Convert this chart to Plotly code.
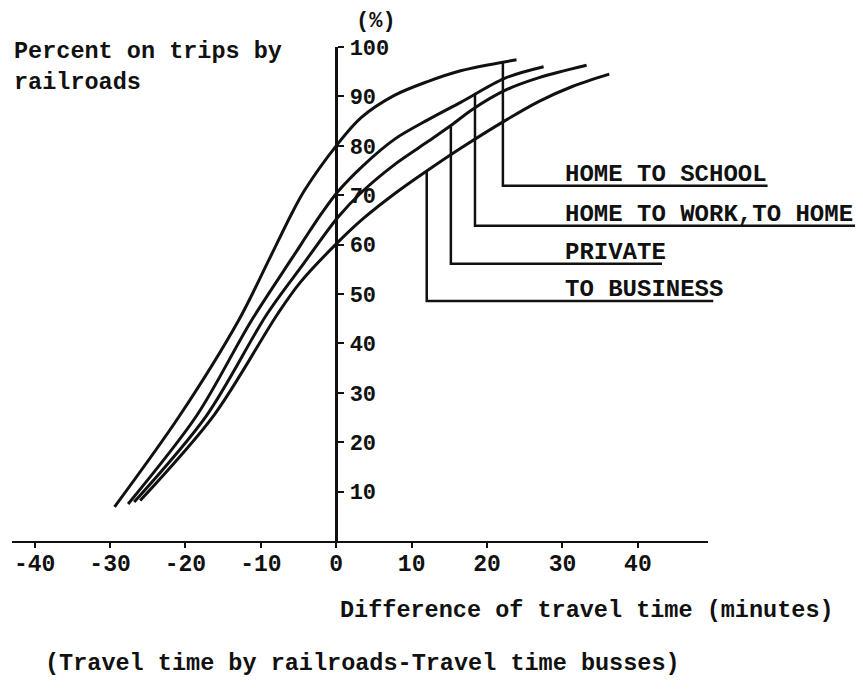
import numpy as np
import plotly.graph_objects as go

# ---------------- data ----------------
series_names = ["HOME TO SCHOOL", "HOME TO WORK,TO HOME", "PRIVATE", "TO BUSINESS"]

school_x = [-29.4, -20.8, -12.9, -8.9, -5.9, -4.2, 0.1, 3.3, 7.7, 12.1, 16.5, 23.9]
school_y = [6.9, 25.3, 44.8, 57.0, 66.3, 71.0, 80.2, 85.7, 90.2, 93.0, 95.2, 97.4]

work_x = [-27.6, -18.5, -11.3, -5.8, -1.9, 0.2, 3.5, 7.8, 12.2, 16.5, 22.4, 27.5]
work_y = [7.5, 25.4, 44.5, 57.4, 66.4, 70.7, 75.9, 81.4, 85.3, 88.8, 93.7, 96.0]

private_x = [-26.8, -17.2, -9.2, -4.4, 0.25, 3.5, 7.9, 12.2, 15.2, 18.1, 22.5, 26.9, 33.2]
private_y = [7.9, 25.4, 45.9, 56.0, 65.6, 70.8, 76.4, 80.9, 84.1, 87.4, 91.3, 93.8, 96.3]

business_x = [-26.0, -16.2, -7.8, -4.8, 0.3, 3.6, 8.0, 11.9, 16.7, 22.5, 26.9, 31.3, 36.2]
business_y = [8.2, 25.5, 45.9, 52.3, 60.6, 65.3, 70.6, 74.8, 79.7, 85.2, 89.0, 92.0, 94.5]

x_tick_vals = [-40, -30, -20, -10, 0, 10, 20, 30, 40]
x_tick_text = ["-40", "-30", "-20", "-10", "0", "10", "20", "30", "40"]
y_tick_vals = [10, 20, 30, 40, 50, 60, 70, 80, 90, 100]
y_tick_text = ["10", "20", "30", "40", "50", "60", "70", "80", "90", "100"]

# label call-outs: where the leader leaves each curve, the level of the underline
callout_x = [22.1, 18.4, 15.2, 12.0]
callout_label_y = [71.9, 63.8, 56.1, 48.6]
callout_line_end = [57.2, 69.1, 43.2, 50.0]
callout_text_x = 30.1

curves_x = [school_x, work_x, private_x, business_x]
curves_y = [school_y, work_y, private_y, business_y]

# ---------------- layout geometry ----------------
# the page body adds an 8px margin, so the figure is drawn 8px smaller/shifted
W, H = 855, 682
ML, MR, MT, MB = 4, 0, 39, 149
PW = W - ML - MR
X_RANGE = [-43.0, 49.3]
X_AXIS_END = 700  # figure px where the drawn x axis stops
d_main = (X_AXIS_END - ML) / PW
px_per_unit = (X_AXIS_END - ML) / (X_RANGE[1] - X_RANGE[0])
X2_RANGE = [X_RANGE[0], X_RANGE[0] + PW / px_per_unit]
y_axis_pos = d_main * (0 - X_RANGE[0]) / (X_RANGE[1] - X_RANGE[0])

FONT = "Liberation Mono"
BLACK = "#111111"

fig = go.Figure()

for name, xs, ys in zip(series_names, curves_x, curves_y):
    fig.add_trace(go.Scatter(
        x=xs, y=ys, mode="lines", name=name,
        line=dict(color=BLACK, width=3, shape="spline", smoothing=0.9),
        xaxis="x", yaxis="y", showlegend=False, hoverinfo="skip"))

for i, name in enumerate(series_names):
    cx = callout_x[i]
    top = float(np.interp(cx, curves_x[i], curves_y[i]))
    ly = callout_label_y[i]
    fig.add_trace(go.Scatter(
        x=[cx, cx, callout_line_end[i]], y=[top, ly, ly], mode="lines",
        line=dict(color=BLACK, width=2.5), xaxis="x2", yaxis="y",
        showlegend=False, hoverinfo="skip"))
    fig.add_annotation(
        x=callout_text_x, y=ly, xref="x2", yref="y", text=name,
        xanchor="left", yanchor="bottom", yshift=-4, showarrow=False,
        font=dict(family=FONT, size=24, color=BLACK, weight="bold"))

fig.add_annotation(x=5.3, y=1.051, xref="x", yref="paper", text="(%)",
                   showarrow=False, xanchor="center", yanchor="middle",
                   font=dict(family=FONT, size=22, color=BLACK, weight="bold"))
fig.add_annotation(x=0, y=1.022, xref="paper", yref="paper",
                   text="Percent on trips by<br>railroads", align="left",
                   showarrow=False, xanchor="left", yanchor="top",
                   font=dict(family=FONT, size=23.5, color=BLACK, weight="bold"))
fig.add_annotation(x=33.3, y=-0.140, xref="x", yref="paper",
                   text="Difference of travel time (minutes)",
                   showarrow=False, xanchor="center", yanchor="middle",
                   font=dict(family=FONT, size=23.5, color=BLACK, weight="bold"))
fig.add_annotation(x=3.45, y=-0.247, xref="x", yref="paper",
                   text="(Travel time by railroads-Travel time busses)",
                   showarrow=False, xanchor="center", yanchor="middle",
                   font=dict(family=FONT, size=23.5, color=BLACK, weight="bold"))

fig.update_layout(
    width=W, height=H,
    margin=dict(l=ML, r=MR, t=MT, b=MB, pad=0),
    paper_bgcolor="white", plot_bgcolor="rgba(0,0,0,0)",
    showlegend=False,
    xaxis=dict(domain=[0, d_main], range=X_RANGE, anchor="y", automargin=False,
               showgrid=False, zeroline=False, showline=True,
               linecolor=BLACK, linewidth=2,
               ticks="", ticklabelstandoff=0,
               minor=dict(ticks="outside", ticklen=5, tickwidth=2,
                          tickcolor=BLACK, tickvals=x_tick_vals),
               tickvals=x_tick_vals, ticktext=x_tick_text,
               tickfont=dict(family=FONT, size=23, color=BLACK, weight="bold")),
    xaxis2=dict(domain=[0, 1], range=X2_RANGE, anchor="y", visible=False,
                showgrid=False, zeroline=False),
    yaxis=dict(domain=[0, 1], range=[0, 100], anchor="free", position=y_axis_pos,
               side="right", automargin=False,
               showgrid=False, zeroline=False, showline=True,
               linecolor=BLACK, linewidth=3,
               ticks="outside", ticklen=6, tickwidth=2, tickcolor=BLACK,
               ticklabelstandoff=1,
               tickvals=y_tick_vals, ticktext=y_tick_text,
               tickfont=dict(family=FONT, size=22, color=BLACK, weight="bold")),
)

fig.write_html("out.html")
